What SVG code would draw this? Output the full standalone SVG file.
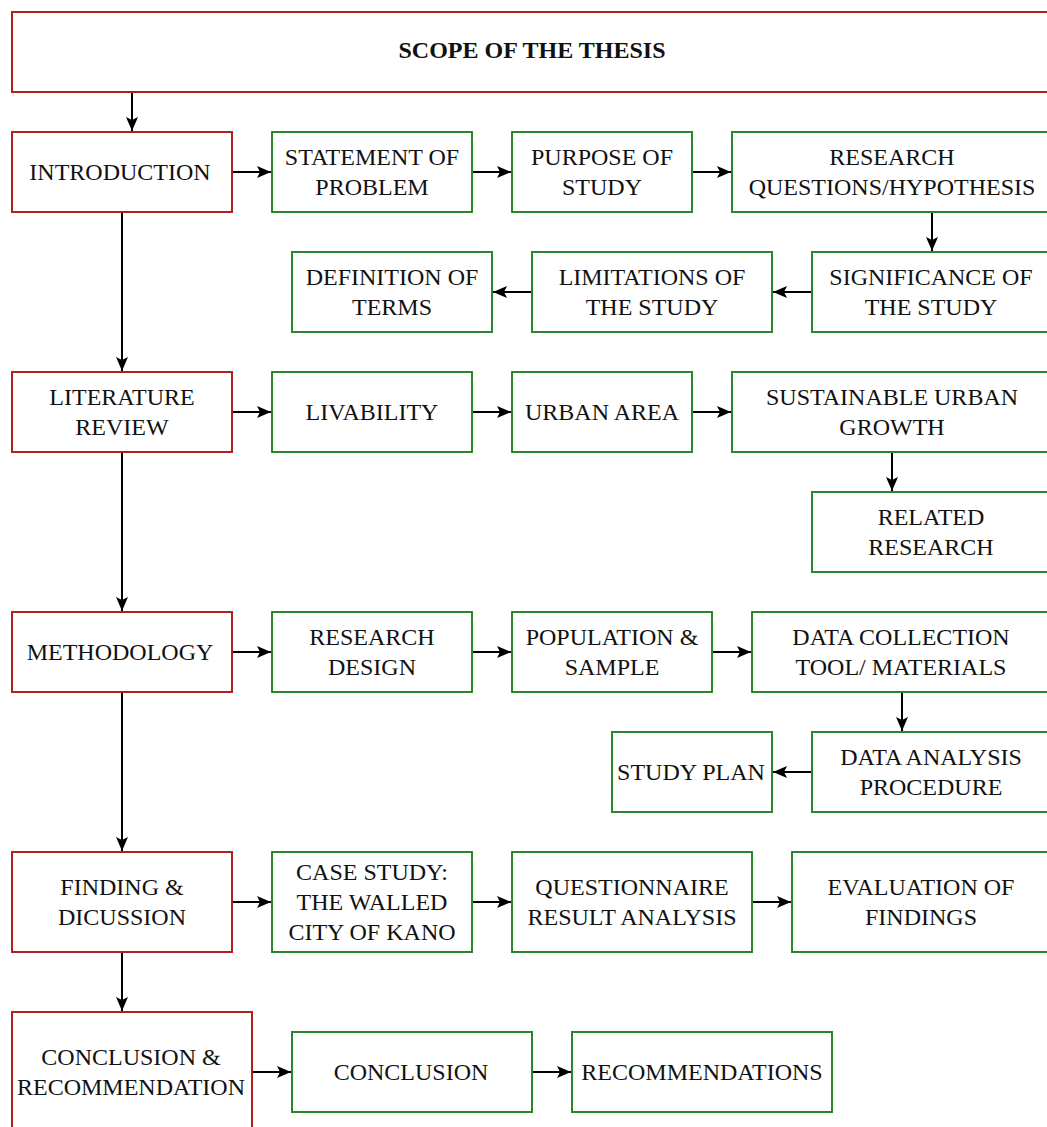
<svg xmlns="http://www.w3.org/2000/svg" width="1047" height="1127" viewBox="0 0 1047 1127">
<defs>
<marker id="ah" viewBox="0 0 14 12" refX="14" refY="6" markerWidth="14" markerHeight="12" markerUnits="userSpaceOnUse" orient="auto">
<path d="M0,0 L14,6 L0,12 L3,6 Z" fill="#000"/>
</marker>
<style>
.m{fill:#fff;stroke:#b21e1e;stroke-width:2}
.s{fill:#fff;stroke:#2a862a;stroke-width:2}
text{font-family:"Liberation Serif","DejaVu Serif",serif;font-size:24px;fill:#111;text-anchor:middle}
.t{font-weight:bold}
.c{fill:none;stroke:#000;stroke-width:2;marker-end:url(#ah)}
</style>
</defs>
<rect width="1047" height="1127" fill="#fff"/>
<g id="connectors">
<line class="c" x1="132" y1="92" x2="132" y2="131"/>
<line class="c" x1="122" y1="212" x2="122" y2="371"/>
<line class="c" x1="122" y1="452" x2="122" y2="611"/>
<line class="c" x1="122" y1="692" x2="122" y2="851"/>
<line class="c" x1="122" y1="952" x2="122" y2="1011"/>
<line class="c" x1="232" y1="172" x2="271" y2="172"/>
<line class="c" x1="472" y1="172" x2="511" y2="172"/>
<line class="c" x1="692" y1="172" x2="731" y2="172"/>
<line class="c" x1="932" y1="212" x2="932" y2="251"/>
<line class="c" x1="812" y1="292" x2="773" y2="292"/>
<line class="c" x1="532" y1="292" x2="493" y2="292"/>
<line class="c" x1="232" y1="412" x2="271" y2="412"/>
<line class="c" x1="472" y1="412" x2="511" y2="412"/>
<line class="c" x1="692" y1="412" x2="731" y2="412"/>
<line class="c" x1="892" y1="452" x2="892" y2="491"/>
<line class="c" x1="232" y1="652" x2="271" y2="652"/>
<line class="c" x1="472" y1="652" x2="511" y2="652"/>
<line class="c" x1="712" y1="652" x2="751" y2="652"/>
<line class="c" x1="902" y1="692" x2="902" y2="731"/>
<line class="c" x1="812" y1="772" x2="773" y2="772"/>
<line class="c" x1="232" y1="902" x2="271" y2="902"/>
<line class="c" x1="472" y1="902" x2="511" y2="902"/>
<line class="c" x1="752" y1="902" x2="791" y2="902"/>
<line class="c" x1="252" y1="1072" x2="291" y2="1072"/>
<line class="c" x1="532" y1="1072" x2="571" y2="1072"/>
</g>
<g id="scope"><rect class="m" x="12" y="12" width="1040" height="80"/><text class="t" x="532" y="58">SCOPE OF THE THESIS</text></g>
<g id="introduction"><rect class="m" x="12" y="132" width="220" height="80"/><text x="120" y="180">INTRODUCTION</text></g>
<g id="statement"><rect class="s" x="272" y="132" width="200" height="80"/><text x="372" y="165">STATEMENT OF</text><text x="372" y="195">PROBLEM</text></g>
<g id="purpose"><rect class="s" x="512" y="132" width="180" height="80"/><text x="602" y="165">PURPOSE OF</text><text x="602" y="195">STUDY</text></g>
<g id="questions"><rect class="s" x="732" y="132" width="320" height="80"/><text x="892" y="165">RESEARCH</text><text x="892" y="195">QUESTIONS/HYPOTHESIS</text></g>
<g id="significance"><rect class="s" x="812" y="252" width="240" height="80"/><text x="931" y="285">SIGNIFICANCE OF</text><text x="931" y="315">THE STUDY</text></g>
<g id="limitations"><rect class="s" x="532" y="252" width="240" height="80"/><text x="652" y="285">LIMITATIONS OF</text><text x="652" y="315">THE STUDY</text></g>
<g id="definition"><rect class="s" x="292" y="252" width="200" height="80"/><text x="392" y="285">DEFINITION OF</text><text x="392" y="315">TERMS</text></g>
<g id="literature"><rect class="m" x="12" y="372" width="220" height="80"/><text x="122" y="405">LITERATURE</text><text x="122" y="435">REVIEW</text></g>
<g id="livability"><rect class="s" x="272" y="372" width="200" height="80"/><text x="372" y="420">LIVABILITY</text></g>
<g id="urban"><rect class="s" x="512" y="372" width="180" height="80"/><text x="602" y="420">URBAN AREA</text></g>
<g id="sustainable"><rect class="s" x="732" y="372" width="320" height="80"/><text x="892" y="405">SUSTAINABLE URBAN</text><text x="892" y="435">GROWTH</text></g>
<g id="related"><rect class="s" x="812" y="492" width="240" height="80"/><text x="931" y="525">RELATED</text><text x="931" y="555">RESEARCH</text></g>
<g id="methodology"><rect class="m" x="12" y="612" width="220" height="80"/><text x="120" y="660">METHODOLOGY</text></g>
<g id="design"><rect class="s" x="272" y="612" width="200" height="80"/><text x="372" y="645">RESEARCH</text><text x="372" y="675">DESIGN</text></g>
<g id="population"><rect class="s" x="512" y="612" width="200" height="80"/><text x="612" y="645">POPULATION &amp;</text><text x="612" y="675">SAMPLE</text></g>
<g id="collection"><rect class="s" x="752" y="612" width="300" height="80"/><text x="901" y="645">DATA COLLECTION</text><text x="901" y="675">TOOL/ MATERIALS</text></g>
<g id="analysis"><rect class="s" x="812" y="732" width="240" height="80"/><text x="931" y="765">DATA ANALYSIS</text><text x="931" y="795">PROCEDURE</text></g>
<g id="studyplan"><rect class="s" x="612" y="732" width="160" height="80"/><text x="691" y="780">STUDY PLAN</text></g>
<g id="finding"><rect class="m" x="12" y="852" width="220" height="100"/><text x="122" y="895">FINDING &amp;</text><text x="122" y="925">DICUSSION</text></g>
<g id="casestudy"><rect class="s" x="272" y="852" width="200" height="100"/><text x="372" y="880">CASE STUDY:</text><text x="372" y="910">THE WALLED</text><text x="372" y="940">CITY OF KANO</text></g>
<g id="questionnaire"><rect class="s" x="512" y="852" width="240" height="100"/><text x="632" y="895">QUESTIONNAIRE</text><text x="632" y="925">RESULT ANALYSIS</text></g>
<g id="evaluation"><rect class="s" x="792" y="852" width="260" height="100"/><text x="921" y="895">EVALUATION OF</text><text x="921" y="925">FINDINGS</text></g>
<g id="conclusionrec"><rect class="m" x="12" y="1012" width="240" height="125"/><text x="131" y="1065">CONCLUSION &amp;</text><text x="131" y="1095">RECOMMENDATION</text></g>
<g id="conclusion"><rect class="s" x="292" y="1032" width="240" height="80"/><text x="411" y="1080">CONCLUSION</text></g>
<g id="recommendations"><rect class="s" x="572" y="1032" width="260" height="80"/><text x="702" y="1080">RECOMMENDATIONS</text></g>
</svg>
